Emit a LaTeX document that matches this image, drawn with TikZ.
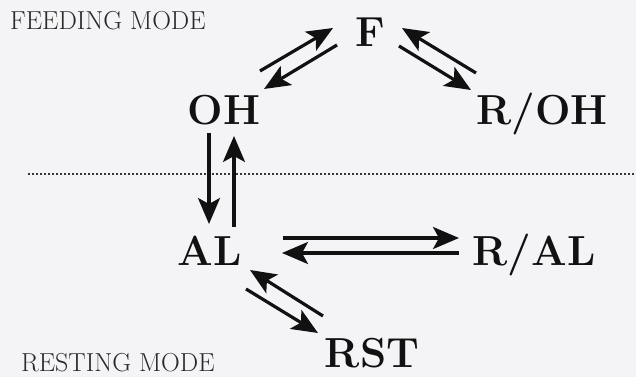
\documentclass[tikz,border=0pt]{standalone}
\usetikzlibrary{arrows.meta}
\definecolor{bgc}{HTML}{F4F4F6}
\definecolor{ink}{HTML}{111111}
\tikzset{
  state/.style={inner sep=0pt, anchor=base, text=ink, font=\fontsize{42}{42}\selectfont\bfseries},
  modelabel/.style={inner sep=0pt, anchor=base west, text=ink!90, font=\fontsize{26}{26}\selectfont},
  conn/.style={line width=3.2pt, draw=ink, -{Stealth[length=26pt,width=22pt,inset=6pt]}},
  sep/.style={line width=1.5pt, draw=ink!85, dash pattern=on 2.4pt off 1.6pt}
}
\begin{document}
\begin{tikzpicture}[x=1pt,y=1pt]
  \fill[bgc] (0,0) rectangle (636,377);
  \useasboundingbox (0,0) rectangle (636,377);

  % mode labels
  \node[modelabel] (feed) at (10,347) {FEEDING MODE};
  \node[modelabel] (rest) at (21,6) {RESTING MODE};

  % states
  \node[state] (F)   at (370,330) {F};
  \node[state] (OH)  at (224,252) {OH};
  \node[state] (ROH) at (542,252) {R/OH};
  \node[state] (AL)  at (210,111) {AL};
  \node[state] (RAL) at (534,111) {R/AL};
  \node[state] (RST) at (372,10)  {RST};

  % separator
  \coordinate (sepL) at (28,203);
  \coordinate (sepR) at (636,203);
  \draw[sep] (sepL) -- (sepR);

  % arrow end points
  \coordinate (a1s) at (260,306); \coordinate (a1e) at (333,349);
  \coordinate (a2s) at (337,332); \coordinate (a2e) at (264,288);
  \coordinate (b1s) at (399,331); \coordinate (b1e) at (471,287);
  \coordinate (b2s) at (476,304); \coordinate (b2e) at (402,349);
  \coordinate (c1s) at (209,244); \coordinate (c1e) at (209,153);
  \coordinate (c2s) at (234,150); \coordinate (c2e) at (234,241);
  \coordinate (d1s) at (283,139); \coordinate (d1e) at (459,139);
  \coordinate (d2s) at (459,124); \coordinate (d2e) at (282,124);
  \coordinate (e1s) at (323,61);  \coordinate (e1e) at (250,107);
  \coordinate (e2s) at (246,88);  \coordinate (e2e) at (318,44);

  % OH <-> F
  \draw[conn] (a1s) -- (a1e);
  \draw[conn] (a2s) -- (a2e);
  % F <-> R/OH
  \draw[conn] (b1s) -- (b1e);
  \draw[conn] (b2s) -- (b2e);
  % OH <-> AL
  \draw[conn] (c1s) -- (c1e);
  \draw[conn] (c2s) -- (c2e);
  % AL <-> R/AL
  \draw[conn] (d1s) -- (d1e);
  \draw[conn] (d2s) -- (d2e);
  % AL <-> RST
  \draw[conn] (e1s) -- (e1e);
  \draw[conn] (e2s) -- (e2e);
\end{tikzpicture}
\end{document}
